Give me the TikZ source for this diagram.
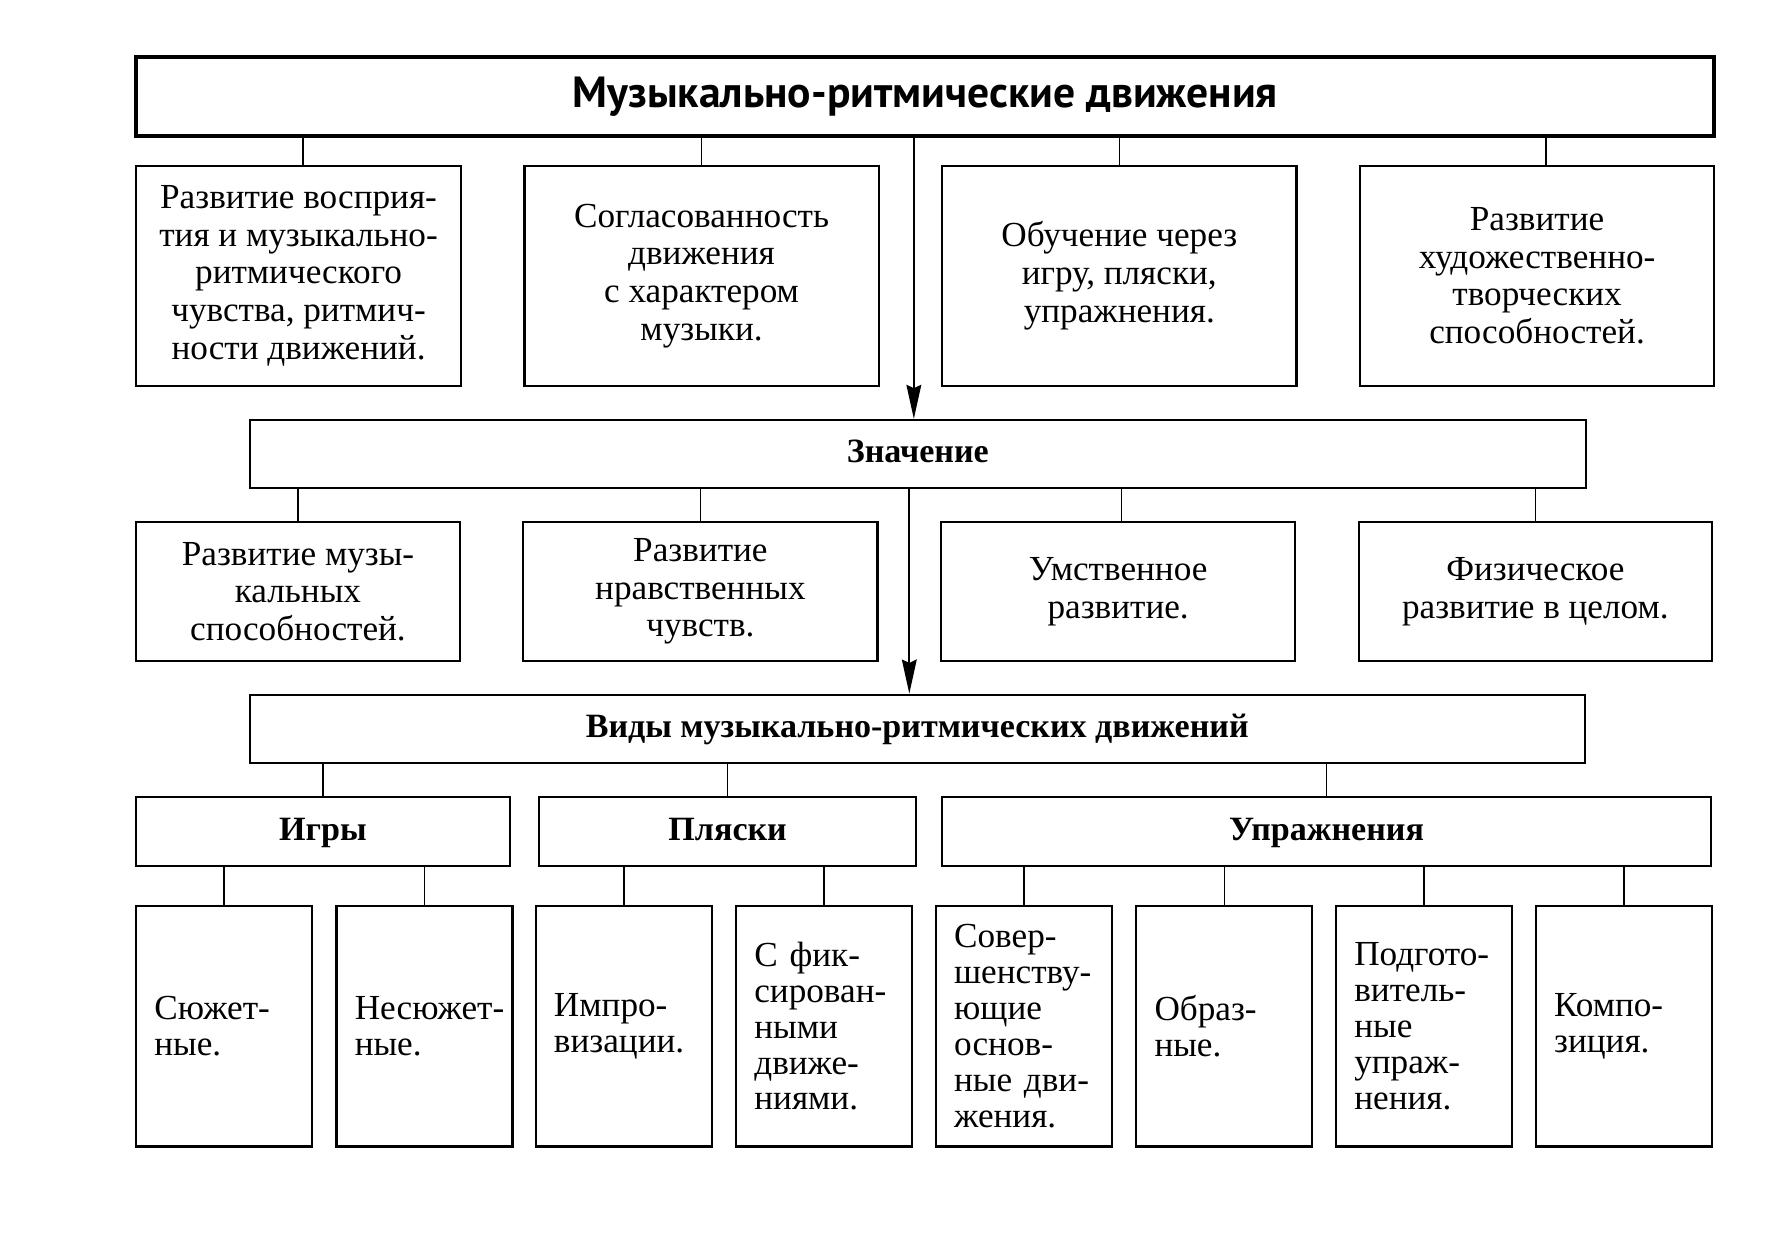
\documentclass[tikz,border=0pt]{standalone}
\usepackage{fontspec}
\setmainfont{Liberation Serif}
\newfontfamily\headfont{PT Sans}
\usetikzlibrary{arrows.meta}

\tikzset{
  box/.style={draw, line width=1pt, inner sep=2pt, align=center, font=\fontsize{15.5}{16.6}\selectfont},
  subbox/.style={draw, line width=1pt, inner xsep=8pt, inner ysep=2pt, minimum width=77.5pt, minimum height=106pt, text width=61.5pt, align=left, font=\fontsize{15.5}{15.8}\selectfont, execute at begin node={\exhyphenpenalty=10000\relax}, execute at end node={\par}},
  bhead/.style={draw, line width=1pt, font=\fontsize{15}{16.5}\selectfont\bfseries, text height=10.5pt, text depth=3pt},
  link/.style={line width=0.7pt},
  arr/.style={line width=0.9pt, -{Stealth[length=15pt,width=6.5pt,inset=1.5pt]}}
}

\begin{document}
\begin{tikzpicture}[x=0.5pt,y=0.5pt,yscale=-1,xscale=1]
        \useasboundingbox (0,0) rectangle (1568,1085.3);

        %Title
        \node [box, minimum width=695pt, minimum height=35pt, line width=1.6pt, font=\headfont\fontsize{19.2}{20}\selectfont\bfseries] (top) at (815,85) {Музыкально-ритмические движения};

        %Row 1
        \node [box, minimum width=143pt, minimum height=97pt] (r1a) at (263,243) {Развитие восприя-\\тия и музыкально-\\ритмического\\чувства, ритмич-\\ности движений.};
        \node [box, minimum width=156pt, minimum height=97pt] (r1b) at (618,243) {Согласованность\\движения\\с характером\\музыки.};
        \node [box, minimum width=156pt, minimum height=97pt] (r1c) at (986,243) {Обучение через\\игру, пляски,\\упражнения.};
        \node [box, minimum width=156pt, minimum height=97pt] (r1d) at (1354,243) {Развитие\\художественно-\\творческих\\способностей.};

        %Значение
        \node [bhead, minimum width=588.5pt, minimum height=30pt] (znach) at (808.5,400) {Значение};

        %Row 2
        \node [box, minimum width=142.5pt, minimum height=61pt] (r2a) at (262.5,521) {Развитие музы-\\кальных\\способностей.};
        \node [box, minimum width=156pt, minimum height=61pt] (r2b) at (617,521) {Развитие\\нравственных\\чувств.};
        \node [box, minimum width=156pt, minimum height=61pt] (r2c) at (985,521) {Умственное\\развитие.};
        \node [box, minimum width=155.5pt, minimum height=61pt] (r2d) at (1352.5,521) {Физическое\\развитие в целом.};

        %Виды
        \node [bhead, minimum width=588pt, minimum height=30pt] (vidy) at (808,642) {Виды музыкально-ритмических движений};

        %Row 3
        \node [bhead, minimum width=164.5pt, minimum height=30.5pt] (igry) at (284.5,732.5) {Игры};
        \node [bhead, minimum width=166pt, minimum height=30.5pt] (plyaski) at (641,732.5) {Пляски};
        \node [bhead, minimum width=338.5pt, minimum height=30.5pt] (upr) at (1168.5,732.5) {Упражнения};

        %Row 4
        \node [subbox] (s1) at (197.5,904) {Сюжет-\\ные.};
        \node [subbox] (s2) at (374,904) {Несюжет-\\ные.};
        \node [subbox] (s3) at (549.5,904) {Импро-\\визации.};
        \node [subbox] (s4) at (726,904) {С фик-\\сирован-\\ными\\движе-\\ниями.};
        \node [subbox] (s5) at (902,904) {Совер-\\шенству-\\ющие\\основ-\\ные дви-\\жения.};
        \node [subbox] (s6) at (1078.5,904) {Образ-\\ные.};
        \node [subbox] (s7) at (1254.5,904) {Подгото-\\витель-\\ные\\упраж-\\нения.};
        \node [subbox] (s8) at (1430.5,904) {Компо-\\зиция.};

        %Connectors
        \draw [link] ([xshift=2pt]r1a.north) -- ([xshift=2pt]r1a.north |- top.south) (r1b.north) -- (r1b.north |- top.south) (r1c.north) -- (r1c.north |- top.south) ([xshift=4pt]r1d.north) -- ([xshift=4pt]r1d.north |- top.south);
        \draw [link] (r2a.north) -- (r2a.north |- znach.south) (r2b.north) -- (r2b.north |- znach.south) ([xshift=1.5pt]r2c.north) -- ([xshift=1.5pt]r2c.north |- znach.south) (r2d.north) -- (r2d.north |- znach.south);
        \draw [link] (igry.north) -- (igry.north |- vidy.south) (plyaski.north) -- (plyaski.north |- vidy.south) (upr.north) -- (upr.north |- vidy.south);
        \draw [link] (s1.north) -- (s1.north |- igry.south) (s2.north) -- (s2.north |- igry.south);
        \draw [link] (s3.north) -- (s3.north |- plyaski.south) (s4.north) -- (s4.north |- plyaski.south);
        \draw [link] (s5.north) -- (s5.north |- upr.south) (s6.north) -- (s6.north |- upr.south) (s7.north) -- (s7.north |- upr.south) (s8.north) -- (s8.north |- upr.south);

        %Arrows
        \coordinate (a1) at ([xshift=-5pt]top.south);
        \coordinate (a2) at ([xshift=-3.75pt]znach.south);
        \draw [arr] (a1) -- (a1 |- znach.north);
        \draw [arr] (a2) -- (a2 |- vidy.north);

\end{tikzpicture}
\end{document}
